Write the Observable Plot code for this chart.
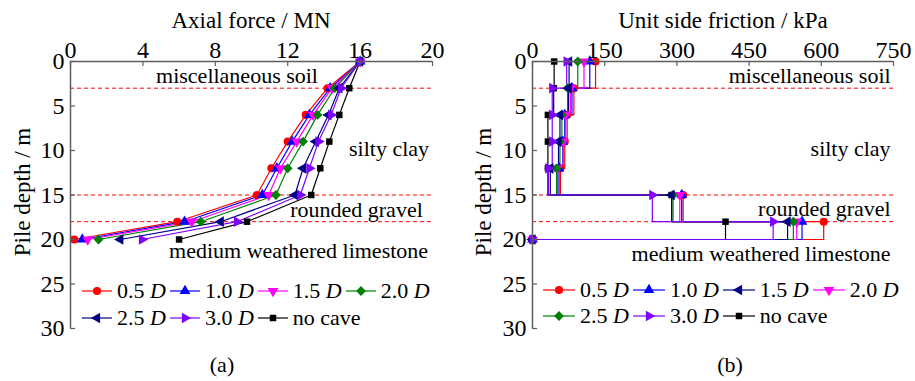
<!DOCTYPE html>
<html><head><meta charset="utf-8">
<script src="https://cdn.jsdelivr.net/npm/d3@7"></script>
<script src="https://cdn.jsdelivr.net/npm/@observablehq/plot@0.6"></script>
<style>
body{margin:0;background:#fff;}
#wrap{position:relative;width:915px;height:381px;font-family:"Liberation Serif","Times New Roman",serif;font-size:22px;color:#000;overflow:hidden;background:#fff;}
.abs{position:absolute;white-space:nowrap;line-height:1;}
.title{font-size:23px;}
.legrow{position:absolute;display:flex;align-items:center;white-space:nowrap;height:22px;line-height:1;font-size:22px;}
.item{display:flex;align-items:center;margin-right:4px;}
.item svg{margin-right:5px;display:block;}
</style></head>
<body><div id="wrap"></div>
<script>
// ---------- data ----------
const depths = [0, 3, 6, 9, 12, 15, 18, 20];
const seriesNames = ["0.5 D", "1.0 D", "1.5 D", "2.0 D", "2.5 D", "3.0 D", "no cave"];

// (a) axial force, MN
const axial05 = [16, 14.2, 13.0, 12.0, 11.1, 10.3, 5.9, 0.2];
const axial10 = [16, 14.35, 13.2, 12.25, 11.4, 10.6, 6.3, 0.65];
const axial15 = [16, 14.45, 13.4, 12.5, 11.6, 10.95, 6.7, 0.95];
const axial20 = [16, 14.6, 13.65, 12.85, 12.0, 11.35, 7.2, 1.55];
const axial25 = [16, 14.85, 14.25, 13.55, 12.85, 12.4, 8.3, 2.75];
const axial30 = [16, 14.95, 14.4, 13.7, 13.2, 12.7, 9.2, 3.95];
const axialNoCave = [16, 15.4, 14.85, 14.3, 13.8, 13.3, 9.75, 6.0];

// (b) unit side friction, kPa
const fric05 = [131, 86, 72, 67, 58, 313, 605, 0];
const fric10 = [119, 82, 67, 63, 55, 310, 560, 0];
const fric15 = [107, 79, 69, 64, 52, 306, 549, 0];
const fric20 = [94, 73, 61, 57, 50, 292, 542, 0];
const fric25 = [76, 75, 57, 54, 37, 289, 530, 0];
const fric30 = [71, 41, 41, 41, 33, 249, 500, 0];
const fricNoCave = [45, 44, 32, 32, 32, 289, 401, 0];

const xTicksA = [0, 4, 8, 12, 16, 20];
const xTicksB = [0, 150, 300, 450, 600, 750];
const yTicks = [0, 5, 10, 15, 20, 25, 30];
const layerBounds = [3, 15, 18];
const layerNames = ["miscellaneous soil", "silty clay", "rounded gravel", "medium weathered limestone"];
const layerLabelDepthA = [1.6, 9.8, 16.7, 21.3];
const layerLabelXA = [9.2, 17.6, 15.8, 12.6];
const layerLabelDepthB = [1.6, 9.8, 16.6, 21.6];
const layerLabelXB = [744, 744, 744, 744];

// legend of panel (b) as printed: label -> style index
const legendLabelsB = ["0.5 D", "1.0 D", "1.5 D", "2.0 D", "2.5 D", "3.0 D", "no cave"];
const legendStyleB = [0, 1, 4, 2, 3, 5, 6];

// ---------- styles ----------
function tri(angle) {
  return {draw(ctx, size) {
    const y = -Math.sqrt(size / (Math.sqrt(3) * 3));
    const pts = [[0, y * 2], [-Math.sqrt(3) * y, -y], [Math.sqrt(3) * y, -y]];
    const c = Math.cos(angle), s = Math.sin(angle);
    pts.forEach(([px, py], i) => {
      const X = px * c - py * s, Y = px * s + py * c;
      i ? ctx.lineTo(X, Y) : ctx.moveTo(X, Y);
    });
    ctx.closePath();
  }};
}
const diamond = {draw(ctx, size) {
  const a = Math.sqrt(size / 2);
  ctx.moveTo(0, -a); ctx.lineTo(a, 0); ctx.lineTo(0, a); ctx.lineTo(-a, 0); ctx.closePath();
}};
const styles = [
  {color: "#ff0000", sym: d3.symbolCircle, size: 52},
  {color: "#0000ff", sym: tri(0), size: 50},
  {color: "#ff00ff", sym: tri(Math.PI), size: 50},
  {color: "#008000", sym: diamond, size: 48},
  {color: "#000080", sym: tri(-Math.PI / 2), size: 50},
  {color: "#8000ff", sym: tri(Math.PI / 2), size: 50},
  {color: "#000000", sym: d3.symbolSquare, size: 42}
];
const drawOrder = [6, 0, 1, 2, 3, 4, 5];
const axialData = [axial05, axial10, axial15, axial20, axial25, axial30, axialNoCave];
const fricData = [fric05, fric10, fric15, fric20, fric25, fric30, fricNoCave];

const axisColor = "#5e5e5e";
const wrap = document.getElementById("wrap");

function rowsOf(values) {
  return depths.map((d, i) => ({depth: d, v: values[i]}));
}

function panel({width, marginLeft, marginRight, data, xDomain, xTicks, curve, labX, labY, labAnchor}) {
  const height = 340, marginTop = 61, marginBottom = 12;
  const innerW = width - marginLeft - marginRight, innerH = height - marginTop - marginBottom;
  const marks = [
    Plot.ruleY(layerBounds, {y: d => d, stroke: "#ff0000", strokeWidth: 1, strokeDasharray: "4,3"}),
  ];
  for (const k of drawOrder) {
    marks.push(Plot.line(rowsOf(data[k]), {x: "v", y: "depth", stroke: styles[k].color, strokeWidth: 1.2, curve}));
  }
  for (const k of drawOrder) {
    marks.push(Plot.dot(rowsOf(data[k]), {x: "v", y: "depth", fill: styles[k].color, stroke: "none",
      symbol: styles[k].sym, r: Math.sqrt(styles[k].size / Math.PI)}));
  }
  marks.push(
    Plot.text(layerNames, {x: (d, i) => labX[i], y: (d, i) => labY[i], text: d => d, fontSize: 22, textAnchor: labAnchor, fill: "#000"}),
    Plot.ruleX([xDomain[0]], {stroke: axisColor, strokeWidth: 1.5}),
    Plot.ruleY([0], {stroke: axisColor, strokeWidth: 1.5}),
    Plot.tickX(xTicks, {x: d => d, stroke: axisColor, strokeWidth: 1.2, insetBottom: innerH - 5}),
    Plot.tickY(yTicks, {y: d => d, stroke: axisColor, strokeWidth: 1.2, insetRight: innerW - 5}),
    Plot.axisX(xTicks, {anchor: "top", tickSize: 0, tickPadding: 4, label: null, fill: "#000", fontSize: 24}),
    Plot.axisY(yTicks, {anchor: "left", tickSize: 0, tickPadding: 6, label: null, fill: "#000", fontSize: 24})
  );
  return Plot.plot({
    width, height, marginLeft, marginRight, marginTop, marginBottom,
    x: {domain: xDomain},
    y: {domain: [0, 30], reverse: true},
    style: {fontFamily: "Liberation Serif", fontSize: "24px", color: "#000", background: "transparent", overflow: "visible"},
    marks
  });
}

const a = panel({width: 460, marginLeft: 70, marginRight: 28, data: axialData, xDomain: [0, 20], xTicks: xTicksA,
  curve: "linear", labX: layerLabelXA, labY: layerLabelDepthA, labAnchor: "middle"});
const b = panel({width: 455, marginLeft: 72, marginRight: 22, data: fricData, xDomain: [0, 750], xTicks: xTicksB,
  curve: "step-before", labX: layerLabelXB, labY: layerLabelDepthB, labAnchor: "end"});
a.style.position = "absolute"; a.style.left = "0px"; a.style.top = "0px";
b.style.position = "absolute"; b.style.left = "460px"; b.style.top = "0px";
wrap.appendChild(a); wrap.appendChild(b);

function addText(txt, x, y, rotate, cls) {
  const d = document.createElement("div");
  d.className = "abs" + (cls ? " " + cls : "");
  d.textContent = txt;
  d.style.left = x + "px"; d.style.top = y + "px";
  d.style.transform = "translate(-50%,-50%)" + (rotate ? " rotate(-90deg)" : "");
  wrap.appendChild(d);
}
addText("Axial force / MN", 251, 20, false, "title");
addText("Unit side friction / kPa", 723, 20, false, "title");
addText("Pile depth / m", 22, 192, true, "title");
addText("Pile depth / m", 483, 192, true, "title");
addText("(a)", 222, 365);
addText("(b)", 730, 365);

function legendItem(label, k, lineW) {
  const it = document.createElement("div");
  it.className = "item";
  const svg = d3.create("svg").attr("width", lineW).attr("height", 14);
  svg.append("line").attr("x1", 0).attr("x2", lineW).attr("y1", 7).attr("y2", 7)
    .attr("stroke", styles[k].color).attr("stroke-width", 1.2);
  svg.append("path").attr("transform", `translate(${lineW / 2},7)`)
    .attr("d", d3.symbol(styles[k].sym, styles[k].size)()).attr("fill", styles[k].color);
  it.appendChild(svg.node());
  const t = document.createElement("span");
  const m = label.match(/^(.*) D$/);
  if (m) { t.innerHTML = m[1] + " <i>D</i>"; } else { t.textContent = label; }
  it.appendChild(t);
  return it;
}
function legendRow(items, x, yCenter, lineW) {
  const r = document.createElement("div");
  r.className = "legrow";
  r.style.left = x + "px"; r.style.top = (yCenter - 11) + "px";
  items.forEach(([label, k]) => r.appendChild(legendItem(label, k, lineW)));
  wrap.appendChild(r);
}
const legA = seriesNames.map((s, i) => [s, i]);
legendRow(legA.slice(0, 4), 82, 291, 30);
legendRow(legA.slice(4), 82, 318, 30);
const legB = legendLabelsB.map((s, i) => [s, legendStyleB[i]]);
legendRow(legB.slice(0, 4), 543, 290, 32);
legendRow(legB.slice(4), 543, 316, 32);
</script>
</body></html>
